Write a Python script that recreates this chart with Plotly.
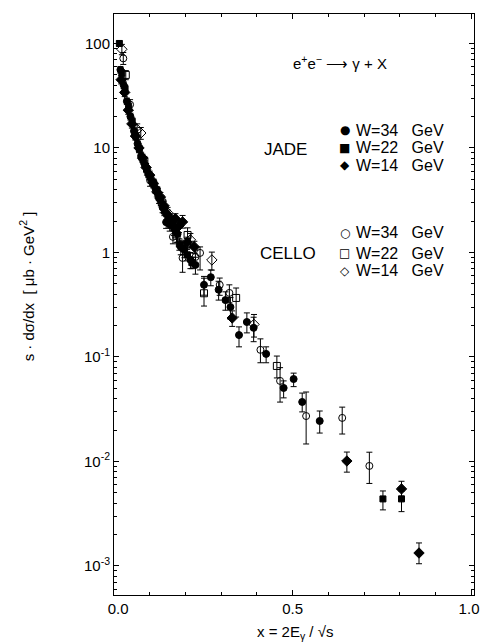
import plotly.graph_objects as go

# ---------------- data ----------------
# JADE, W = 34 GeV (filled circles)
j34_x = [0.018, 0.027, 0.036, 0.046, 0.056, 0.066, 0.076, 0.086, 0.096, 0.106, 0.116, 0.126,
         0.136, 0.146, 0.156, 0.168, 0.178, 0.187, 0.197, 0.214, 0.228, 0.252, 0.271, 0.293,
         0.312, 0.326, 0.350, 0.372, 0.391, 0.426, 0.475, 0.503, 0.527, 0.576]
j34_y = [56, 40, 28, 20, 14.5, 11, 8.4, 7.0, 5.7, 4.8, 4.1, 3.3,
         2.7, 1.95, 1.85, 1.7, 1.5, 1.13, 1.06, 0.85, 0.76, 0.49, 0.58, 0.44,
         0.35, 0.30, 0.162, 0.216, 0.19, 0.107, 0.0505, 0.0615, 0.0371, 0.0244]
j34_ep = [4, 3, 2, 1.5, 1.1, 0.9, 0.7, 0.6, 0.5, 0.45, 0.4, 0.35,
          0.3, 0.25, 0.25, 0.25, 0.25, 0.18, 0.17, 0.15, 0.14, 0.1, 0.1, 0.09,
          0.07, 0.07, 0.032, 0.048, 0.05, 0.018, 0.0085, 0.0085, 0.008, 0.006]
j34_em = [4, 3, 2, 1.5, 1.1, 0.9, 0.7, 0.6, 0.5, 0.45, 0.4, 0.35,
          0.3, 0.25, 0.25, 0.25, 0.25, 0.18, 0.17, 0.15, 0.14, 0.1, 0.1, 0.09,
          0.07, 0.07, 0.037, 0.046, 0.05, 0.019, 0.0099, 0.0095, 0.0073, 0.0057]

# JADE, W = 22 GeV (filled squares)
j22_x = [0.015, 0.022, 0.031, 0.041, 0.051, 0.061, 0.071, 0.081, 0.091, 0.101, 0.111, 0.121,
         0.131, 0.141, 0.151, 0.161, 0.172, 0.183, 0.193, 0.205, 0.218, 0.753, 0.805]
j22_y = [100, 52, 37, 25, 18, 13, 9.8, 7.8, 6.3, 5.3, 4.6, 3.9,
         3.1, 2.5, 2.2, 1.9, 1.6, 1.2, 1.1, 0.95, 0.8, 0.00438, 0.00438]
j22_ep = [6, 4, 3, 2, 1.4, 1.0, 0.8, 0.6, 0.5, 0.45, 0.4, 0.35,
          0.3, 0.25, 0.22, 0.2, 0.2, 0.15, 0.15, 0.12, 0.1, 0.00084, 0.0008]
j22_em = [6, 4, 3, 2, 1.4, 1.0, 0.8, 0.6, 0.5, 0.45, 0.4, 0.35,
          0.3, 0.25, 0.22, 0.2, 0.2, 0.15, 0.15, 0.12, 0.1, 0.00094, 0.00107]

# JADE, W = 14 GeV (filled diamonds)
j14_x = [0.020, 0.030, 0.040, 0.050, 0.060, 0.070, 0.080, 0.090, 0.100, 0.110, 0.120, 0.130,
         0.140, 0.150, 0.160, 0.172, 0.182, 0.192, 0.205, 0.225, 0.331, 0.652, 0.805, 0.854]
j14_y = [45, 34, 23, 17, 13, 10, 8.0, 6.5, 5.5, 4.6, 3.8, 3.4,
         2.8, 2.3, 2.0, 2.1, 1.8, 1.96, 1.25, 1.13, 0.236, 0.0101, 0.00546, 0.00133]
j14_ep = [4, 3, 2, 1.5, 1.1, 0.9, 0.7, 0.6, 0.5, 0.45, 0.4, 0.35,
          0.3, 0.25, 0.25, 0.25, 0.25, 0.3, 0.15, 0.15, 0.04, 0.0022, 0.001, 0.00033]
j14_em = [4, 3, 2, 1.5, 1.1, 0.9, 0.7, 0.6, 0.5, 0.45, 0.4, 0.35,
          0.3, 0.25, 0.25, 0.25, 0.25, 0.25, 0.15, 0.15, 0.04, 0.0022, 0.0008, 0.00028]

# CELLO, W = 34 GeV (open circles)
c34_x = [0.026, 0.045, 0.101, 0.122, 0.165, 0.192, 0.228, 0.241, 0.296, 0.323, 0.410, 0.465,
         0.538, 0.639, 0.715]
c34_y = [72, 26, 4.9, 3.7, 1.41, 0.886, 0.905, 0.99, 0.489, 0.41, 0.117, 0.059,
         0.0272, 0.0261, 0.00906]
c34_ep = [10, 3, 0.7, 0.4, 0.2, 0.24, 0.15, 0.14, 0.08, 0.08, 0.032, 0.02,
          0.019, 0.007, 0.0032]
c34_em = [9, 3, 0.6, 0.4, 0.2, 0.24, 0.15, 0.31, 0.1, 0.08, 0.029, 0.022,
          0.0125, 0.0078, 0.0029]

# CELLO, W = 22 GeV (open squares)
c22_x = [0.033, 0.085, 0.135, 0.175, 0.206, 0.252, 0.342, 0.456]
c22_y = [50, 7.5, 3.0, 1.45, 1.47, 0.407, 0.367, 0.082]
c22_ep = [5, 0.8, 0.35, 0.2, 0.25, 0.16, 0.09, 0.02]
c22_em = [5, 0.8, 0.35, 0.2, 0.25, 0.1, 0.126, 0.019]

# CELLO, W = 14 GeV (open diamonds)
c14_x = [0.022, 0.065, 0.075, 0.150, 0.214, 0.274, 0.392]
c14_y = [88, 15, 13.9, 2.4, 1.32, 0.848, 0.205]
c14_ep = [10, 2, 1.8, 0.3, 0.2, 0.16, 0.05]
c14_em = [10, 2, 1.8, 0.3, 0.2, 0.17, 0.05]

y_tickvals = [1e-3, 1e-2, 1e-1, 1, 10, 100]
y_ticktext = ["10<sup>-3</sup>", "10<sup>-2</sup>", "10<sup>-1</sup>", "1", "10", "100"]
x_tickvals = [0.0, 0.5, 1.0]
x_ticktext = ["0.0", "0.5", "1.0"]

FONT = "Liberation Sans, Arial, sans-serif"
NB = "\u00a0"

# (group, label, x, y, err+, err-, marker symbol, legend glyph)
series = [
    ("JADE", "W=34" + NB * 3 + "GeV", j34_x, j34_y, j34_ep, j34_em, "circle", "●"),
    ("JADE", "W=22" + NB * 3 + "GeV", j22_x, j22_y, j22_ep, j22_em, "square", "■"),
    ("JADE", "W=14" + NB * 3 + "GeV", j14_x, j14_y, j14_ep, j14_em, "diamond", "◆"),
    ("CELLO", "W=34" + NB * 3 + "GeV", c34_x, c34_y, c34_ep, c34_em, "circle-open", "○"),
    ("CELLO", "W=22" + NB * 3 + "GeV", c22_x, c22_y, c22_ep, c22_em, "square-open", "□"),
    ("CELLO", "W=14" + NB * 3 + "GeV", c14_x, c14_y, c14_ep, c14_em, "diamond-open", "◇"),
]
marker_size = {"circle": 7, "square": 6, "diamond": 8,
               "circle-open": 7, "square-open": 7, "diamond-open": 8}

fig = go.Figure()
for grp, name, xs, ys, ep, em, sym, glyph in series:
    fig.add_trace(go.Scatter(
        x=xs, y=ys, mode="markers", name=grp + " " + name, showlegend=False,
        marker=dict(symbol=sym, size=marker_size[sym], color="black",
                    line=dict(color="black", width=1)),
        error_y=dict(type="data", symmetric=False, array=ep, arrayminus=em,
                     color="black", thickness=1, width=3),
    ))

fig.update_layout(
    width=487, height=644,
    margin=dict(l=114, r=3, t=14, b=49),
    paper_bgcolor="white", plot_bgcolor="white",
    font=dict(family=FONT, color="black", size=15),
    showlegend=False,
    xaxis=dict(range=[0, 1.008], tickmode="array", tickvals=x_tickvals,
               ticktext=[NB * 2 + x_ticktext[0], x_ticktext[1], x_ticktext[2] + NB],
               ticklabeloverflow="allow",
               ticks="inside", ticklen=5, tickcolor="black", showline=True, linecolor="black",
               linewidth=1, mirror="allticks", showgrid=False, zeroline=False,
               minor=dict(ticks="inside", ticklen=3, dtick=0.1, tickcolor="black", showgrid=False),
               tickfont=dict(size=15)),
    yaxis=dict(type="log", range=[-3.278, 2.282], tickmode="array", tickvals=y_tickvals,
               ticktext=y_ticktext, ticks="inside", ticklen=5, tickcolor="black", showline=True,
               linecolor="black", linewidth=1, mirror="allticks", showgrid=False, zeroline=False,
               minor=dict(ticks="inside", ticklen=3, dtick="D1", tickcolor="black", showgrid=False),
               tickfont=dict(size=15)),
)

# manual legend (paper coordinates)
row_y = [0.8003, 0.7694, 0.7401, 0.6231, 0.5886, 0.5577]
for (grp, name, xs, ys, ep, em, sym, glyph), ry in zip(series, row_y):
    fig.add_annotation(xref="paper", yref="paper", x=0.6405, y=ry, showarrow=False,
                       text=glyph, font=dict(size=12, family="DejaVu Sans"),
                       xanchor="center", yanchor="middle")
    fig.add_annotation(xref="paper", yref="paper", x=0.668, y=ry, showarrow=False,
                       text=name, font=dict(size=16), xanchor="left", yanchor="middle")

fig.add_annotation(xref="paper", yref="paper", x=0.4757, y=0.766, showarrow=False,
                   text="JADE", font=dict(size=17), yanchor="middle")
fig.add_annotation(xref="paper", yref="paper", x=0.4838, y=0.5886, showarrow=False,
                   text="CELLO", font=dict(size=17), yanchor="middle")

fig.add_annotation(xref="paper", yref="paper", x=0.503, y=-0.0654, showarrow=False,
                   text="x = 2E<sub>γ</sub> / √s", font=dict(size=15), yanchor="middle")
fig.add_annotation(xref="paper", yref="paper", x=-0.2405, y=0.532, showarrow=False,
                   textangle=-90, text="s · dσ/dx  [ μb · GeV<sup>2</sup> ]",
                   font=dict(size=15), xanchor="center", yanchor="middle")
fig.add_annotation(xref="paper", yref="paper", x=0.627, y=0.9157, showarrow=False,
                   text="e<sup>+</sup>e<sup>−</sup> ⟶ γ + X", font=dict(size=15),
                   yanchor="middle")

fig.write_html("out.html")
